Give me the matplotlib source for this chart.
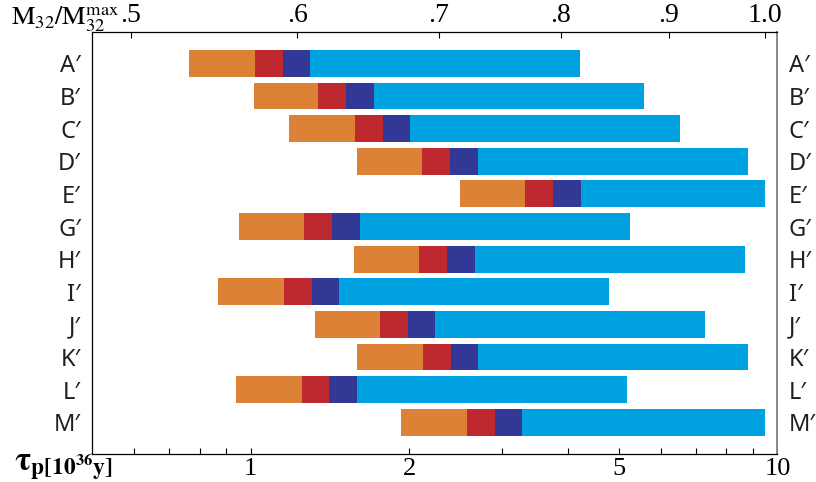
import numpy as np
import matplotlib
matplotlib.use("Agg")
import matplotlib.pyplot as plt
from matplotlib.ticker import FixedLocator, FixedFormatter, NullLocator, NullFormatter

# rows, top to bottom
labels = ["A′", "B′", "C′", "D′", "E′", "G′", "H′", "I′", "J′", "K′", "L′", "M′"]

# segment boundaries of each bar, tau_p in 10^36 y
tau_lo = [0.763, 1.015, 1.182, 1.592, 2.497, 0.950, 1.571, 0.867, 1.325, 1.592, 0.938, 1.929]
tau_b1 = [1.019, 1.342, 1.578, 2.115, 3.318, 1.262, 2.087, 1.157, 1.760, 2.124, 1.251, 2.575]
tau_b2 = [1.152, 1.517, 1.783, 2.390, 3.750, 1.427, 2.359, 1.308, 1.989, 2.401, 1.408, 2.910]
tau_b3 = [1.296, 1.715, 2.007, 2.702, 4.240, 1.613, 2.667, 1.472, 2.239, 2.702, 1.592, 3.275]
tau_hi = [4.22, 5.58, 6.54, 8.80, 9.475, 5.253, 8.685, 4.793, 7.29, 8.80, 5.185, 9.475]

seg_colors = ["#DD8137", "#BE282F", "#313896", "#00A1E0"]

# top axis: tau ~ M^4, M32/M32max = 1 at tau ~ 9.47
tau_at_max = 9.47
m_ticks = [0.5, 0.6, 0.7, 0.8, 0.9, 1.0]
m_ticklabels = [".5", ".6", ".7", ".8", ".9", "1.0"]

bottom_ticks = [1, 2, 5, 10]
bottom_minor = [0.6, 0.7, 0.8, 0.9, 3, 4, 6, 7, 8, 9]

plt.rcParams['mathtext.fontset'] = 'stix'
serif = ['Liberation Serif', 'DejaVu Serif']
sans = ['Noto Sans', 'DejaVu Sans']

fig = plt.figure(figsize=(8.16, 4.82), dpi=100)
ax = fig.add_axes([0.1127, 0.0575, 0.84, 0.8761])

y = np.arange(len(labels))
bounds = [tau_lo, tau_b1, tau_b2, tau_b3, tau_hi]
for k in range(4):
    left = np.array(bounds[k])
    right = np.array(bounds[k + 1])
    ax.barh(y, right - left, left=left, height=0.82, color=seg_colors[k],
            linewidth=0)

ax.set_xscale('log')
ax.set_xlim(0.5, 10)
ax.set_ylim(11.98, -0.96)

ax.xaxis.set_major_locator(FixedLocator(bottom_ticks))
ax.xaxis.set_major_formatter(FixedFormatter([str(t) for t in bottom_ticks]))
ax.xaxis.set_minor_locator(FixedLocator(bottom_minor))
ax.xaxis.set_minor_formatter(NullFormatter())
ax.tick_params(axis='x', which='both', direction='in', length=4, width=0.8,
               top=False, pad=3)
for t in ax.get_xticklabels():
    t.set_fontfamily(serif)
    t.set_fontsize(19)

ax.set_yticks(y)
ax.set_yticklabels(labels)
ax.tick_params(axis='y', which='both', length=0, left=True, right=True,
               labelleft=True, labelright=True, pad=8)
for tk in ax.yaxis.get_major_ticks():
    for lab in (tk.label1, tk.label2):
        lab.set_fontfamily(sans)
        lab.set_fontsize(17)
        lab.set_color("#231F20")

for s in ['left', 'top', 'bottom']:
    ax.spines[s].set_color('black')
    ax.spines[s].set_linewidth(0.9)
ax.spines['right'].set_color('#888888')
ax.spines['right'].set_linewidth(1.4)

sec = ax.secondary_xaxis('top', functions=(lambda t: (np.clip(t, 1e-9, None) / tau_at_max) ** 0.25,
                                           lambda m: tau_at_max * np.clip(m, 1e-9, None) ** 4))
sec.xaxis.set_major_locator(FixedLocator(m_ticks))
sec.xaxis.set_major_formatter(FixedFormatter(m_ticklabels))
sec.xaxis.set_minor_locator(NullLocator())
sec.tick_params(axis='x', direction='in', length=4, width=0.8, pad=3)
sec.spines['top'].set_visible(False)
for t in sec.get_xticklabels():
    t.set_fontfamily(serif)
    t.set_fontsize(20)

fig.text(0.014, 0.948, r'$\mathrm{M_{32}/M_{32}^{max}}$', fontsize=19,
         ha='left', va='baseline')
fig.text(0.017, 0.025, r'$\mathbf{\tau_{p[10^{36}y]}}$', fontsize=24,
         ha='left', va='baseline')

fig.savefig("out.png", dpi=100)
